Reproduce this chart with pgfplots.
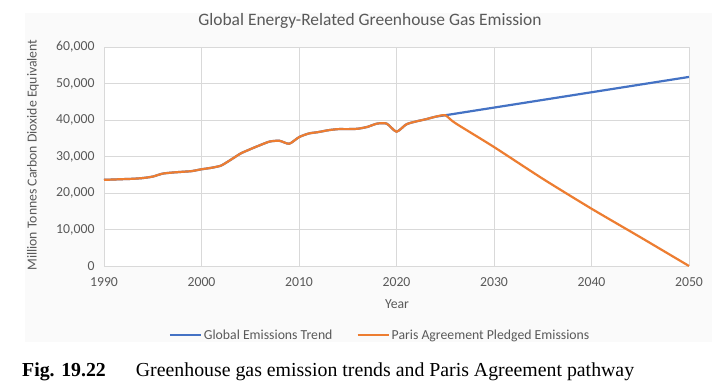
\documentclass[border=0pt]{standalone}
\usepackage{pgfplots}
\pgfplotsset{compat=1.18}
\usepackage{fontspec}
\setmainfont{Carlito}
\newfontfamily\capfont{Liberation Serif}
\definecolor{xlblue}{HTML}{4472C4}
\definecolor{xlorange}{HTML}{ED7D31}
\definecolor{gridc}{HTML}{D9D9D9}
\definecolor{txt}{HTML}{595959}
\definecolor{chartbg}{HTML}{FAFAFA}
\begin{document}
\begin{tikzpicture}
\useasboundingbox (0,0) rectangle (717bp,390bp);
\fill[chartbg] (25bp,48bp) rectangle (712bp,377bp);
\begin{axis}[
  at={(104bp,124bp)}, anchor=south west,
  width=585bp, height=219bp, scale only axis,
  xmin=1990, xmax=2050, ymin=0, ymax=60000,
  xtick={1990,2000,...,2050}, ytick={0,10000,...,60000},
  grid=major, major grid style={gridc, line width=0.8bp},
  axis x line*=bottom, axis y line*=left,
  x axis line style={gridc, line width=0.8bp, -},
  y axis line style={draw=none},
  tick style={draw=none},
  axis background/.style={fill=white},
  ticklabel style={font=\fontsize{13.8}{16}\selectfont, text=txt},
  /pgf/number format/assume math mode=true,
  yticklabel style={/pgf/number format/1000 sep={,}, xshift=-6bp},
  xticklabel style={/pgf/number format/1000 sep={}, yshift=-8bp},
  scaled y ticks=false,
  legend columns=2,
  legend style={at={(0.4718,-0.315)}, anchor=center, draw=none, fill=none,
    font=\fontsize{13.8}{16}\selectfont\color{txt},
    /tikz/every even column/.append style={column sep=22bp}},
  legend image code/.code={\draw[#1, line width=2.2bp] (0bp,0bp) -- (31bp,0bp);},
  legend cell align=left,
  clip=false,
]
\addplot[xlblue, line width=2.2bp, smooth, tension=0.4] coordinates {
(1990,23600) (1991,23700) (1992,23800) (1993,23900) (1994,24100) (1995,24500)
(1996,25300) (1997,25600) (1998,25800) (1999,26000) (2000,26500) (2001,26900)
(2002,27500) (2003,29100) (2004,30800) (2005,32000) (2006,33100) (2007,34100)
(2008,34300) (2009,33500) (2010,35300) (2011,36300) (2012,36700) (2013,37200)
(2014,37500) (2015,37500) (2016,37600) (2017,38100) (2018,39000) (2019,39000)
(2020,36800) (2021,38800) (2022,39600) (2023,40200) (2024,40900) (2025,41300)
(2030,43400) (2035,45500) (2040,47600) (2045,49700) (2050,51800)
};
\addlegendentry{Global Emissions Trend}
\addplot[xlorange, line width=2.2bp, smooth, tension=0.4] coordinates {
(1990,23600) (1991,23700) (1992,23800) (1993,23900) (1994,24100) (1995,24500)
(1996,25300) (1997,25600) (1998,25800) (1999,26000) (2000,26500) (2001,26900)
(2002,27500) (2003,29100) (2004,30800) (2005,32000) (2006,33100) (2007,34100)
(2008,34300) (2009,33500) (2010,35300) (2011,36300) (2012,36700) (2013,37200)
(2014,37500) (2015,37500) (2016,37600) (2017,38100) (2018,39000) (2019,39000)
(2020,36800) (2021,38800) (2022,39600) (2023,40200) (2024,40900) (2025,41300)
(2026,39200) (2030,32600) (2035,23900) (2040,15700) (2045,7900) (2050,0)
};
\addlegendentry{Paris Agreement Pledged Emissions}
\end{axis}
\node[font=\fontsize{17.5}{20}\selectfont, text=txt] at (370bp,369bp) {Global Energy-Related Greenhouse Gas Emission};
\node[font=\fontsize{13.8}{16}\selectfont, text=txt, rotate=90] at (33bp,235bp) {Million Tonnes Carbon Dioxide Equivalent};
\node[font=\fontsize{13.8}{16}\selectfont, text=txt] at (397bp,86bp) {Year};
\node[anchor=west, inner sep=0pt, font=\capfont\fontsize{19.9}{22}\selectfont] at (22bp,18bp) {\textbf{Fig. 19.22}\hspace{30bp}Greenhouse gas emission trends and Paris Agreement pathway};
\end{tikzpicture}
\end{document}
